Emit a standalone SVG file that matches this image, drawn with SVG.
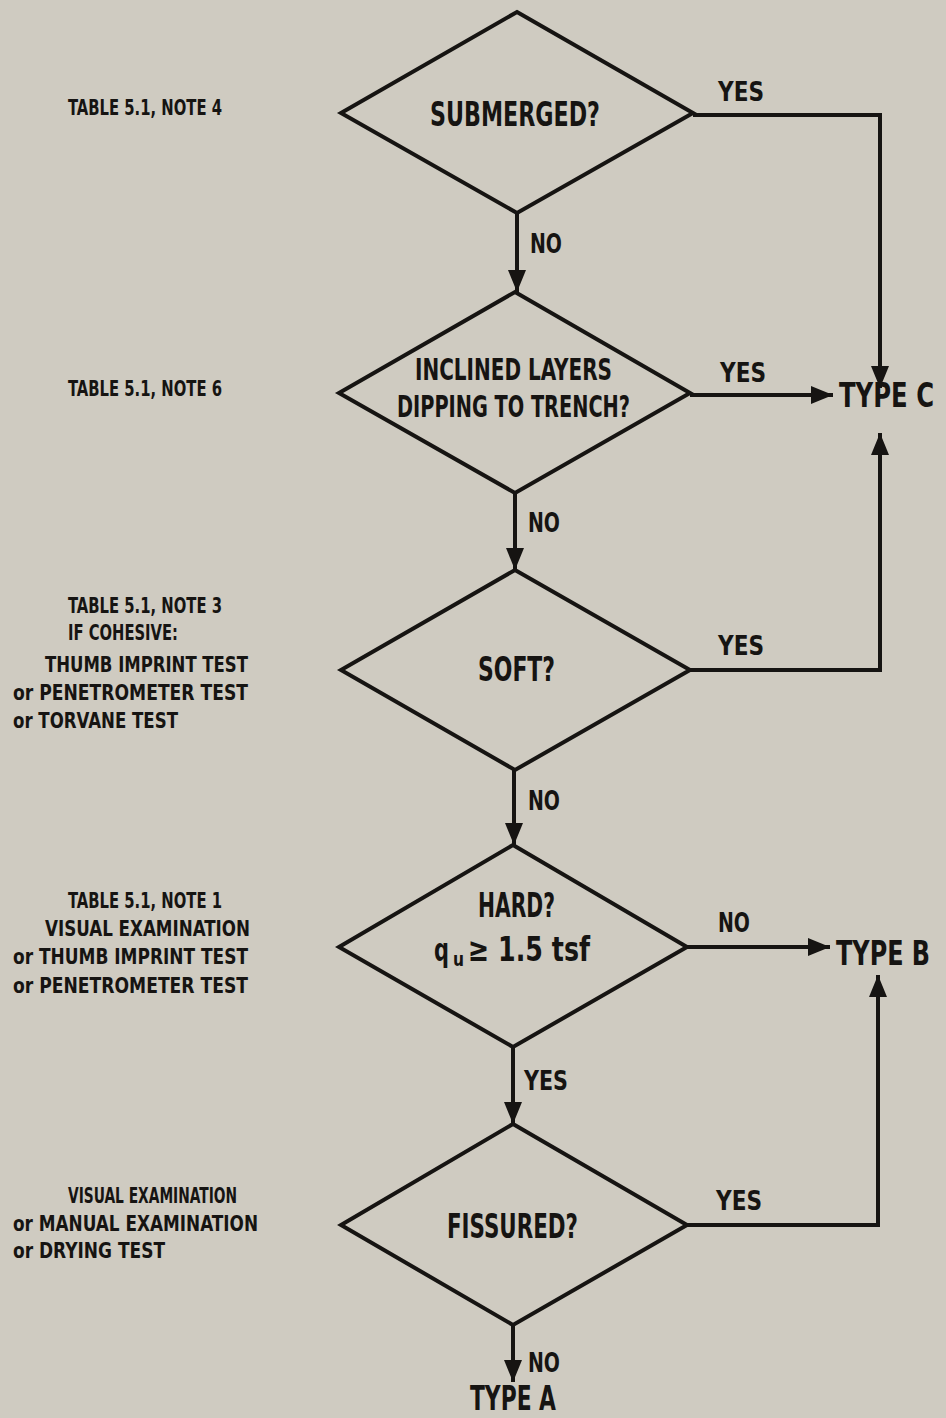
<svg xmlns="http://www.w3.org/2000/svg" width="946" height="1418" viewBox="0 0 946 1418">
<defs>
<style>
text{font-family:"Liberation Sans Narrow","DejaVu Sans Condensed","Liberation Sans",sans-serif;font-weight:bold;fill:#161412}
.big{font-size:34px}
.two{font-size:30px}
.lbl{font-size:26px}
.note{font-size:21px}
.type{font-size:33px}
.shape{fill:none;stroke:#161412;stroke-width:4;stroke-linejoin:miter}
.conn{fill:none;stroke:#161412;stroke-width:4}
</style>
<marker id="arr" viewBox="0 0 22 18" refX="22" refY="9" markerWidth="22" markerHeight="18" markerUnits="userSpaceOnUse" orient="auto">
<path d="M0,0 L22,9 L0,18 z" fill="#161412"/>
</marker>
</defs>
<rect width="946" height="1418" fill="#cfcbc1"/>

<g id="notes">
<text class="note" x="68" y="115" textLength="154" lengthAdjust="spacingAndGlyphs">TABLE 5.1, NOTE 4</text>
<text class="note" x="68" y="396" textLength="154" lengthAdjust="spacingAndGlyphs">TABLE 5.1, NOTE 6</text>
<text class="note" x="68" y="613" textLength="154" lengthAdjust="spacingAndGlyphs">TABLE 5.1, NOTE 3</text>
<text class="note" x="68" y="640" textLength="110" lengthAdjust="spacingAndGlyphs">IF COHESIVE:</text>
<text class="note" x="45" y="672" textLength="203" lengthAdjust="spacingAndGlyphs">THUMB IMPRINT TEST</text>
<text class="note" x="13" y="700" textLength="235" lengthAdjust="spacingAndGlyphs">or PENETROMETER TEST</text>
<text class="note" x="13" y="728" textLength="165" lengthAdjust="spacingAndGlyphs">or TORVANE TEST</text>
<text class="note" x="68" y="908" textLength="154" lengthAdjust="spacingAndGlyphs">TABLE 5.1, NOTE 1</text>
<text class="note" x="45" y="936" textLength="205" lengthAdjust="spacingAndGlyphs">VISUAL EXAMINATION</text>
<text class="note" x="13" y="964" textLength="235" lengthAdjust="spacingAndGlyphs">or THUMB IMPRINT TEST</text>
<text class="note" x="13" y="993" textLength="235" lengthAdjust="spacingAndGlyphs">or PENETROMETER TEST</text>
<text class="note" x="68" y="1203" textLength="169" lengthAdjust="spacingAndGlyphs">VISUAL EXAMINATION</text>
<text class="note" x="13" y="1231" textLength="245" lengthAdjust="spacingAndGlyphs">or MANUAL EXAMINATION</text>
<text class="note" x="13" y="1258" textLength="152" lengthAdjust="spacingAndGlyphs">or DRYING TEST</text>
</g>

<g id="connectors">
<line class="conn" x1="517" y1="213" x2="517" y2="292" marker-end="url(#arr)"/>
<path class="conn" d="M693,115 H880 V388" marker-end="url(#arr)"/>
<line class="conn" x1="690" y1="395" x2="833" y2="395" marker-end="url(#arr)"/>
<line class="conn" x1="515" y1="493" x2="515" y2="570" marker-end="url(#arr)"/>
<path class="conn" d="M690,670 H880 V433" marker-end="url(#arr)"/>
<line class="conn" x1="514" y1="770" x2="514" y2="845" marker-end="url(#arr)"/>
<line class="conn" x1="687" y1="947" x2="830" y2="947" marker-end="url(#arr)"/>
<line class="conn" x1="513" y1="1047" x2="513" y2="1124" marker-end="url(#arr)"/>
<path class="conn" d="M687,1225 H878 V975" marker-end="url(#arr)"/>
<line class="conn" x1="513" y1="1325" x2="513" y2="1382" marker-end="url(#arr)"/>
<text class="lbl" x="718" y="101" textLength="46" lengthAdjust="spacingAndGlyphs">YES</text>
<text class="lbl" x="530" y="253" textLength="32" lengthAdjust="spacingAndGlyphs">NO</text>
<text class="lbl" x="720" y="382" textLength="46" lengthAdjust="spacingAndGlyphs">YES</text>
<text class="lbl" x="528" y="532" textLength="32" lengthAdjust="spacingAndGlyphs">NO</text>
<text class="lbl" x="718" y="655" textLength="46" lengthAdjust="spacingAndGlyphs">YES</text>
<text class="lbl" x="528" y="810" textLength="32" lengthAdjust="spacingAndGlyphs">NO</text>
<text class="lbl" x="718" y="932" textLength="32" lengthAdjust="spacingAndGlyphs">NO</text>
<text class="lbl" x="524" y="1090" textLength="44" lengthAdjust="spacingAndGlyphs">YES</text>
<text class="lbl" x="716" y="1210" textLength="46" lengthAdjust="spacingAndGlyphs">YES</text>
<text class="lbl" x="528" y="1372" textLength="32" lengthAdjust="spacingAndGlyphs">NO</text>
</g>

<g id="submerged">
<polygon class="shape" points="517,12 693,113 517,213 341,113"/>
<text class="big" x="430" y="126" textLength="170" lengthAdjust="spacingAndGlyphs">SUBMERGED?</text>
</g>
<g id="inclined">
<polygon class="shape" points="515,292 690,393 515,493 339,393"/>
<text class="two" x="415" y="380" textLength="197" lengthAdjust="spacingAndGlyphs">INCLINED LAYERS</text>
<text class="two" x="397" y="417" textLength="233" lengthAdjust="spacingAndGlyphs">DIPPING TO TRENCH?</text>
</g>
<g id="soft">
<polygon class="shape" points="515,570 690,670 515,770 341,670"/>
<text class="big" x="478" y="681" textLength="77" lengthAdjust="spacingAndGlyphs">SOFT?</text>
</g>
<g id="hard">
<polygon class="shape" points="513,845 687,947 513,1047 339,947"/>
<text class="big" x="478" y="917" textLength="77" lengthAdjust="spacingAndGlyphs">HARD?</text>
<text transform="translate(434,961) scale(1,1.3)" x="0" y="0" font-size="24" textLength="15" lengthAdjust="spacingAndGlyphs">q</text>
<text x="453" y="966" font-size="19" textLength="11" lengthAdjust="spacingAndGlyphs">u</text>
<text class="big" x="468" y="961" textLength="122" lengthAdjust="spacingAndGlyphs">≥ 1.5 tsf</text>
</g>
<g id="fissured">
<polygon class="shape" points="513,1124 687,1225 513,1325 341,1225"/>
<text class="big" x="447" y="1238" textLength="131" lengthAdjust="spacingAndGlyphs">FISSURED?</text>
</g>
<g id="typeC">
<text transform="translate(934,407) scale(1,1.2)" x="0" y="0" font-size="28" text-anchor="end" textLength="95" lengthAdjust="spacingAndGlyphs">TYPE C</text>
</g>
<g id="typeB">
<text transform="translate(930,965) scale(1,1.2)" x="0" y="0" font-size="28" text-anchor="end" textLength="94" lengthAdjust="spacingAndGlyphs">TYPE B</text>
</g>
<g id="typeA">
<text class="type" x="513" y="1410" text-anchor="middle" textLength="86" lengthAdjust="spacingAndGlyphs" font-size="31">TYPE A</text>
</g>
</svg>
